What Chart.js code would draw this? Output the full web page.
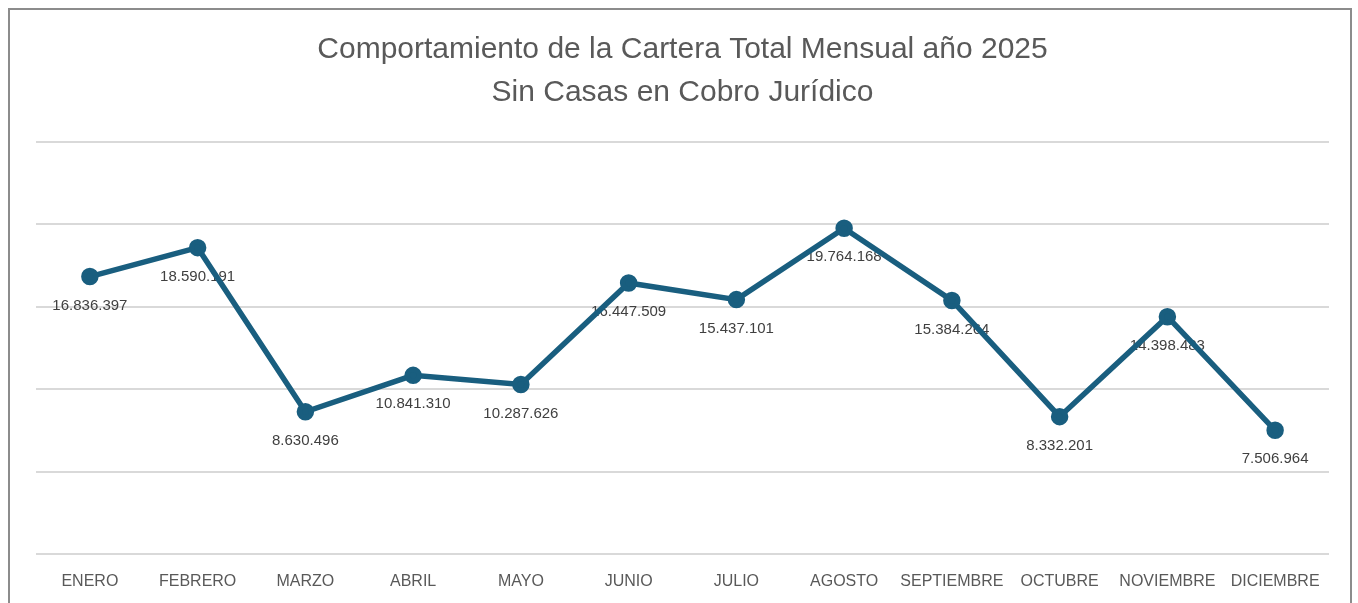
<!DOCTYPE html>
<html>
<head>
<meta charset="utf-8">
<script src="https://cdn.jsdelivr.net/npm/chart.js@4/dist/chart.umd.min.js"></script>
<style>
  html, body { margin: 0; padding: 0; background: #ffffff; }
  #wrap { position: relative; width: 1358px; height: 603px; overflow: hidden; }
  #frame { position: absolute; left: 8px; top: 8px; width: 1344px; height: 640px; border: 2px solid #8c8c8c; box-sizing: border-box; }
  #c { position: absolute; left: 0; top: 0; }
</style>
</head>
<body>
<div id="wrap">
  <div id="frame"></div>
  <canvas id="c" width="1358" height="603"></canvas>
</div>
<script>
const months = ["ENERO","FEBRERO","MARZO","ABRIL","MAYO","JUNIO","JULIO","AGOSTO","SEPTIEMBRE","OCTUBRE","NOVIEMBRE","DICIEMBRE"];
const cartera = [16836397, 18590191, 8630496, 10841310, 10287626, 16447509, 15437101, 19764168, 15384264, 8332201, 14398483, 7506964];
const titleLines = ["Comportamiento de la Cartera Total Mensual año 2025", "Sin Casas en Cobro Jurídico"];
const yMin = 0, yMax = 25000000, yStep = 5000000;

function fmt(v) { return String(v).replace(/\B(?=(\d{3})+(?!\d))/g, "."); }

const labelPlugin = {
  id: "pointLabels",
  beforeDatasetsDraw(chart) {
    const ctx = chart.ctx;
    const meta = chart.getDatasetMeta(0);
    ctx.save();
    ctx.font = "15px 'Liberation Sans', Arial, sans-serif";
    ctx.fillStyle = "#404040";
    ctx.textAlign = "center";
    ctx.textBaseline = "middle";
    meta.data.forEach((pt, i) => {
      ctx.fillText(fmt(chart.data.datasets[0].data[i]), pt.x, pt.y + 29);
    });
    ctx.restore();
  }
};

new Chart(document.getElementById("c"), {
  type: "line",
  data: {
    labels: months,
    datasets: [{
      data: cartera,
      borderColor: "#195e7f",
      backgroundColor: "#195e7f",
      borderWidth: 5.5,
      pointRadius: 6,
      pointBackgroundColor: "#195e7f",
      pointBorderColor: "#195e7f",
      tension: 0,
      clip: false
    }]
  },
  options: {
    responsive: false,
    animation: false,
    layout: { padding: { left: 36, right: 29, top: 0, bottom: 0 } },
    plugins: {
      legend: { display: false },
      tooltip: { enabled: false },
      title: {
        display: true,
        text: titleLines,
        color: "#595959",
        font: { family: "'Liberation Sans', Arial, sans-serif", size: 30, weight: "normal", lineHeight: 1.4333 },
        padding: { top: 28.5, bottom: 27.5 }
      }
    },
    scales: {
      x: {
        offset: true,
        grid: { display: false },
        border: { display: false },
        ticks: { color: "#595959", font: { family: "'Liberation Sans', Arial, sans-serif", size: 16 }, padding: 10, maxRotation: 0, autoSkip: false },
        afterFit(s) { s.height = 49; }
      },
      y: {
        min: yMin, max: yMax,
        ticks: { display: false, stepSize: yStep },
        border: { display: false },
        grid: { color: "#d9d9d9", lineWidth: 2, drawTicks: false },
        afterFit(s) { s.width = 0; }
      }
    }
  },
  plugins: [labelPlugin]
});
</script>
</body>
</html>
